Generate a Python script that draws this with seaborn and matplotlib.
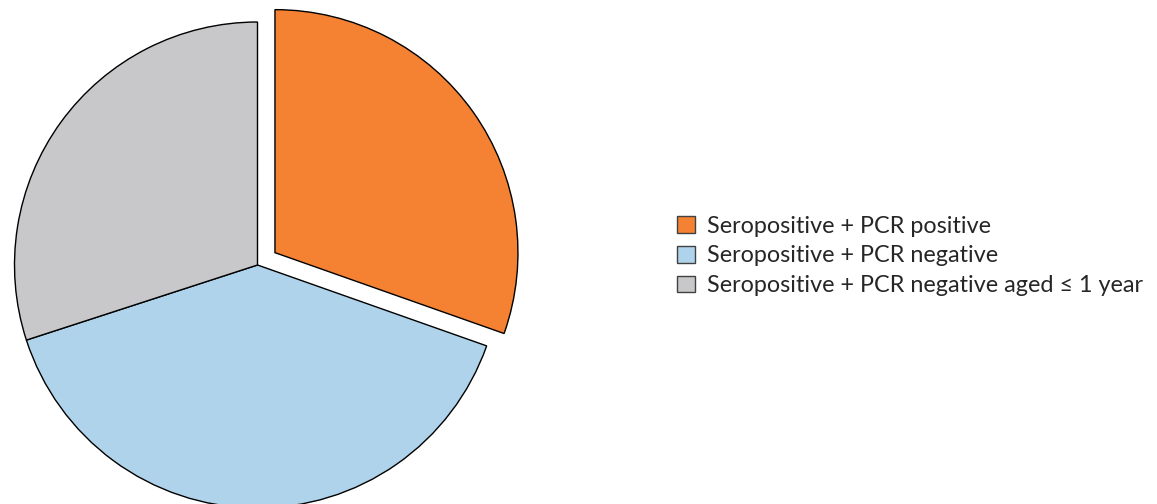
import matplotlib
matplotlib.use("Agg")
import matplotlib.pyplot as plt
import seaborn as sns
from matplotlib.patches import Patch

categories = ["Seropositive + PCR positive",
              "Seropositive + PCR negative",
              "Seropositive + PCR negative aged \u2264 1 year"]
values = [30.4, 39.6, 30.0]
colors = ["#F58233", "#AFD3EB", "#C8C8CA"]
explode = [0.088, 0, 0]

sns.set_theme(style="white")
plt.rcParams['font.family'] = ['Lato', 'DejaVu Sans']

fig = plt.figure(figsize=(11.57, 5.04), dpi=100)
W, H = 1157, 504
cx, cy, r = 257.5, 265.0, 243
ax = fig.add_axes([(cx - r) / W, (H - (cy + r)) / H, 2 * r / W, 2 * r / H])
wedges, _ = ax.pie(values, colors=colors, explode=explode, startangle=90,
                   counterclock=False,
                   wedgeprops=dict(edgecolor="black", linewidth=1.0))
for w in wedges:
    w.set_clip_on(False)
ax.set_xlim(-1, 1)
ax.set_ylim(-1, 1)
ax.axis("off")

handles = [Patch(facecolor=c, edgecolor="#404040", linewidth=1.0) for c in colors]
leg = fig.legend(handles, categories, loc="center left",
                 bbox_to_anchor=(668 / W, 1 - 256 / H), frameon=False,
                 fontsize=16.8, handlelength=0.74, handleheight=0.74,
                 handletextpad=0.55, labelspacing=0.37, borderaxespad=0)

fig.savefig("out.png", dpi=100)
